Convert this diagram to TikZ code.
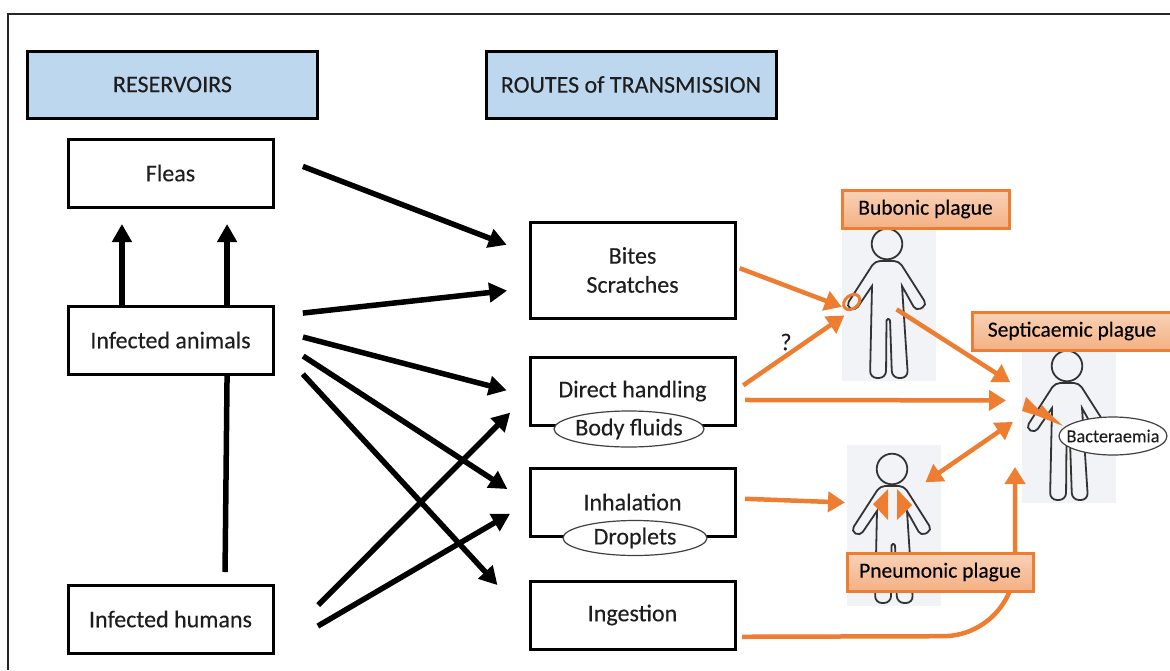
\documentclass[tikz,border=0pt]{standalone}
\usepackage{fontspec}
\setmainfont{Carlito}[FakeBold=0.2]
\usetikzlibrary{arrows.meta,shapes.geometric}
\definecolor{plagueorange}{HTML}{ED7D31}
\definecolor{headblue}{HTML}{BDD7EE}
\definecolor{panelgrey}{HTML}{F1F3F6}
\definecolor{inkgrey}{HTML}{1E1E1E}
\tikzset{
    txt/.style={font=\fontsize{24}{29}\selectfont, text=inkgrey, align=center, inner sep=0pt, outer sep=0pt},
    headbox/.style={txt, draw=black, line width=3pt, fill=headblue, minimum width=290pt, minimum height=67pt},
    resbox/.style={txt, draw=black, line width=3pt, fill=white, minimum width=205pt, minimum height=68pt},
    oval/.style={txt, ellipse, draw=black!75, line width=1.2pt, fill=white, inner xsep=-20pt, inner ysep=-4pt},
    plaguebox/.style={txt, font=\fontsize{21.5}{26}\selectfont, draw=plagueorange, line width=3pt, top color=plagueorange!35, bottom color=plagueorange!60, text=black},
    panel/.style={fill=panelgrey, inner sep=0pt, outer sep=0pt, minimum width=94pt},
    blk/.style={line width=5.5pt, black, -{Triangle[length=18pt,width=19pt]}},
    org/.style={line width=4.5pt, plagueorange, -{Triangle[length=17pt,width=20pt]}},
    person/.pic={
        \draw [black!80, line width=1.8pt] (45,16) circle (15.3);
        \draw [black!80, line width=1.8pt, rounded corners=5pt]
            (33,33) -- (4,78) -- (13,83) [sharp corners] -- (30,58) [rounded corners=7pt] -- (28,150) -- (44,150)
            [rounded corners=1.5pt] -- (44.5,91) -- (48,91) [rounded corners=7pt] -- (50,150) -- (66,150)
            [sharp corners] -- (60,58) [rounded corners=5pt] -- (74,83) -- (85,77) -- (57,33) -- cycle;
    }
}
\begin{document}
\begin{tikzpicture}[x=1pt, y=-1pt]
    \useasboundingbox (0,0) rectangle (1170,670);

    % frame
    \draw [black!85, line width=1.8pt] (8,670) -- (8,14) -- (1170,14);

    % person panels
    \node [panel, minimum height=153pt] (bubopanel) at (889,304.5) {};
    \node [panel, minimum height=153pt] (septpanel) at (1069,426.5) {};
    \node [panel, minimum height=161pt] (pneupanel) at (894,525.5) {};
    \pic at (842,228) {person};
    \pic at (1022,350) {person};
    \pic at (847,453) {person};

    % headings
    \node [headbox] (reservoirs) at (172.5,84.5) {RESERVOIRS};
    \node [headbox] (routes) at (631,84.5) {ROUTES of TRANSMISSION};

    % reservoirs
    \node [resbox] (fleas) at (170.5,173) {Fleas};
    \node [resbox] (animals) at (170.5,340) {Infected animals};
    \node [resbox] (humans) at (170.5,619) {Infected humans};

    % routes
    \node [resbox, minimum height=96pt] (bites) at (632.5,270) {Bites\\Scratches};
    \node [resbox] (handling) at (632.5,391) {Direct handling};
    \node [resbox] (inhalation) at (632.5,502) {Inhalation};
    \node [resbox] (ingestion) at (632.5,615) {Ingestion};
    \node [oval, minimum width=150pt, minimum height=36pt] (fluids) at (629,429) {Body fluids};
    \node [oval, minimum width=144pt, minimum height=35pt] (droplets) at (635,538) {Droplets};

    % black arrows
    \draw [blk, shorten <=32pt, shorten >=25pt] (fleas.10) -- (bites.171);
    \draw [blk, shorten >=17pt] (animals.145) -- (fleas.215);
    \draw [blk, shorten >=17pt] (animals.31) -- (fleas.329);
    \draw [blk, -, shorten <=13pt] (humans.32) -- (animals.-31);
    \draw [blk, shorten <=30pt, shorten >=23pt] (animals.13) -- (bites.190);
    \draw [blk, shorten <=31pt, shorten >=24pt] (animals.6.7) -- (handling.183.3);
    \draw [blk, shorten <=36pt, shorten >=27pt] (animals.2) -- (inhalation.181.7);
    \draw [blk, shorten <=44pt, shorten >=48pt] (animals.-1) -- (ingestion.183.3);
    \draw [blk, shorten <=64pt, shorten >=28pt] (humans.-17.3) -- (handling.181);
    \draw [blk, shorten <=52pt, shorten >=23pt] (humans.-18) -- (inhalation.180);

    % bite mark, lungs, bolt
    \node [ellipse, draw=plagueorange, line width=3pt, rotate=40, minimum width=18pt, minimum height=13pt, inner sep=0pt] (bubo) at (851.7,302) {};
    \fill [plagueorange] (888,489) -- (873,504) -- (888,520) -- cycle;
    \fill [plagueorange] (897,489) -- (912,505) -- (897,520) -- cycle;
    \fill [plagueorange] (1026,397) -- (1022,411) -- (1038,416) -- (1063,426) -- (1048,412) -- (1042,405) -- (1039,410) -- cycle;

    % orange arrows
    \coordinate (upturn) at (1015,636);
    \coordinate (septtip) at (1015,467);
    \draw [org, rounded corners=72pt, shorten <=7pt] (ingestion.-12) -- (upturn) -- (septtip);
    \draw [org, shorten <=5pt, shorten >=1pt] (bites.2) -- (bubo.170);
    \draw [org, shorten <=10pt, shorten >=8pt] (handling.0) -- (bubo.225);
    \draw [org, shorten <=10pt, shorten >=16pt] (handling.-5) -- (septpanel.151);
    \draw [org, shorten <=10pt, shorten >=2pt] (inhalation.2.5) -- (pneupanel.154.4);
    \draw [org, shorten <=9pt, shorten >=14pt] (bubopanel.center) -- (septpanel.142);
    \draw [org, <->, >={Triangle[length=17pt,width=20pt]}, shorten <=-19pt, shorten >=11pt] (pneupanel.49) -- (septpanel.167.4);
    \node [txt] (query) at (786,342) {?};

    % plague labels
    \node [plaguebox, minimum width=167pt, minimum height=38pt] (bubonic) at (925.5,209) {Bubonic plague};
    \node [plaguebox, minimum width=200pt, minimum height=38pt] (septic) at (1072,331) {Septicaemic plague};
    \node [plaguebox, minimum width=186pt, minimum height=38pt] (pneumonic) at (940,572) {Pneumonic plague};
    \node [oval, font=\fontsize{18.3}{22}\selectfont, minimum width=108pt, minimum height=38pt] (bacteraemia) at (1113,436) {Bacteraemia};

\end{tikzpicture}
\end{document}
